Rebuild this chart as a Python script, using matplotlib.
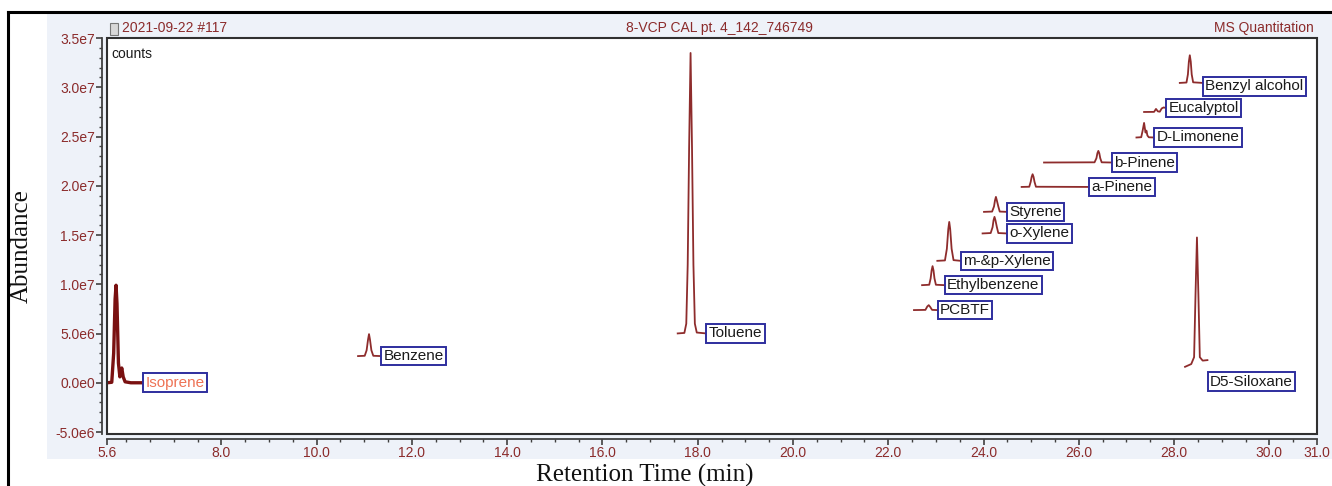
import numpy as np
import matplotlib
matplotlib.use("Agg")
from matplotlib import pyplot as plt
from matplotlib.ticker import MultipleLocator, FixedLocator, FuncFormatter
from matplotlib.patches import Rectangle
from matplotlib.lines import Line2D

# compound segments of the stacked chromatogram (time in min, abundance in 1e6 counts)
names = ["Isoprene", "Benzene", "Toluene", "PCBTF", "Ethylbenzene", "m-&p-Xylene",
         "o-Xylene", "Styrene", "a-Pinene", "b-Pinene", "D-Limonene", "Eucalyptol",
         "Benzyl alcohol", "D5-Siloxane"]

times = [
    [5.60, 5.70, 5.74, 5.77, 5.79, 5.81, 5.84, 5.87, 5.91, 5.94, 5.98, 6.10, 6.36],
    [10.87, 11.01, 11.05, 11.08, 11.10, 11.12, 11.15, 11.19, 11.35],
    [17.58, 17.72, 17.76, 17.79, 17.82, 17.85, 17.88, 17.91, 17.94, 17.98, 18.18],
    [22.54, 22.78, 22.82, 22.85, 22.88, 22.92, 23.03],
    [22.71, 22.86, 22.89, 22.91, 22.93, 22.95, 22.97, 23.00, 23.18],
    [23.03, 23.19, 23.23, 23.26, 23.28, 23.30, 23.33, 23.37, 23.52],
    [23.98, 24.15, 24.19, 24.21, 24.23, 24.25, 24.28, 24.31, 24.49],
    [24.01, 24.18, 24.22, 24.24, 24.26, 24.28, 24.31, 24.34, 24.49],
    [24.80, 24.96, 24.99, 25.01, 25.03, 25.05, 25.07, 25.10, 26.22],
    [25.27, 26.33, 26.37, 26.39, 26.41, 26.43, 26.45, 26.48, 26.69],
    [27.21, 27.31, 27.34, 27.37, 27.40, 27.42, 27.44, 27.47, 27.58],
    [27.37, 27.58, 27.62, 27.66, 27.70, 27.74, 27.78, 27.83],
    [28.12, 28.26, 28.29, 28.31, 28.33, 28.35, 28.37, 28.40, 28.60],
    [28.23, 28.36, 28.42, 28.45, 28.48, 28.51, 28.54, 28.60, 28.70],
]

counts = [
    [0.0, 0.05, 3.0, 8.5, 9.9, 8.0, 2.0, 0.6, 1.5, 0.6, 0.1, 0.0, 0.0],
    [2.71, 2.74, 3.3, 4.4, 4.94, 4.4, 3.3, 2.74, 2.71],
    [5.01, 5.06, 6.0, 12.0, 24.0, 33.48, 24.0, 12.0, 6.0, 5.1, 5.01],
    [7.38, 7.40, 7.75, 7.88, 7.70, 7.40, 7.38],
    [9.91, 9.95, 10.6, 11.4, 11.84, 11.4, 10.6, 9.95, 9.91],
    [12.38, 12.42, 13.6, 15.6, 16.33, 15.6, 13.6, 12.45, 12.38],
    [15.16, 15.20, 15.8, 16.5, 16.84, 16.5, 15.8, 15.20, 15.16],
    [17.35, 17.38, 17.9, 18.5, 18.87, 18.5, 17.9, 17.38, 17.35],
    [19.88, 19.90, 20.4, 20.9, 21.17, 20.9, 20.4, 19.90, 19.88],
    [22.36, 22.38, 22.8, 23.3, 23.54, 23.3, 22.8, 22.38, 22.36],
    [24.90, 24.93, 25.6, 26.38, 25.4, 25.6, 25.1, 24.92, 24.90],
    [27.49, 27.50, 27.80, 27.55, 27.52, 27.85, 27.95, 27.90],
    [30.44, 30.48, 31.3, 32.6, 33.25, 32.6, 31.3, 30.50, 30.44],
    [1.62, 1.90, 2.6, 9.0, 14.75, 9.0, 2.6, 2.25, 2.30],
]

xticks = [5.6, 8.0, 10.0, 12.0, 14.0, 16.0, 18.0, 20.0, 22.0, 24.0, 26.0, 28.0, 30.0, 31.0]

sans = "Liberation Sans"
serif = "Liberation Serif"
tick_red = "#8b2b2b"
trace_red = "#8e2c2c"
box_blue = "#2e2e9e"

fig = plt.figure(figsize=(13.32, 4.86), dpi=100)

# light panel behind the plot and the header strip
fig.patches.append(Rectangle((47 / 1332, 1 - 459 / 486), 1 - 47 / 1332, (459 - 14) / 486,
                             transform=fig.transFigure, facecolor="#eef2f9",
                             edgecolor="none", zorder=-1))
# black outer frame (top and left)
fig.lines.append(Line2D([8 / 1332, 1], [1 - 12 / 486, 1 - 12 / 486],
                        transform=fig.transFigure, color="black", lw=2.2))
fig.lines.append(Line2D([8 / 1332, 8 / 1332], [0, 1 - 12 / 486],
                        transform=fig.transFigure, color="black", lw=2.2))

ax = fig.add_axes([107 / 1332, 1 - 434 / 486, (1317 - 107) / 1332, (434 - 38) / 486])
ax.set_facecolor("white")

for i, name in enumerate(names):
    t = np.array(times[i])
    y = np.array(counts[i]) * 1e6
    if name == "Isoprene":
        ax.plot(t, y, color="#7a1111", lw=2.4, solid_joinstyle="round", zorder=3)
    else:
        ax.plot(t, y, color=trace_red, lw=1.3, solid_joinstyle="round", zorder=3)

    # label box starts where the segment ends
    ly = y[-1]
    if name == "D5-Siloxane":
        ly -= 2.2e6
    elif name == "Benzyl alcohol":
        ly -= 0.35e6
    col = "#ee7355" if name == "Isoprene" else "#1a1a1a"
    ax.annotate(name, xy=(t[-1], ly), xytext=(1.8, 0), textcoords="offset points",
                ha="left", va="center", fontsize=11, family=sans, color=col,
                bbox=dict(boxstyle="square,pad=0.15", fc="white", ec=box_blue, lw=1.4),
                zorder=4)

ax.set_xlim(5.6, 31.0)
ax.set_ylim(-5.2e6, 3.5e7)

# plot box, with the axis lines pushed outward from it
ax.add_patch(Rectangle((0, 0), 1, 1, transform=ax.transAxes, fill=False,
                       edgecolor="#303030", lw=1.5, clip_on=False, zorder=5))
for s in ["top", "right"]:
    ax.spines[s].set_visible(False)
for s in ["left", "bottom"]:
    ax.spines[s].set_position(("outward", 3.3))
    ax.spines[s].set_color("#404040")
    ax.spines[s].set_linewidth(1.3)


def sci(v, pos):
    v = round(v)
    if v == 0:
        return "0.0e0"
    e = int(np.floor(np.log10(abs(v))))
    return f"{v / 10 ** e:.1f}e{e}"


ax.yaxis.set_major_locator(MultipleLocator(5e6))
ax.yaxis.set_minor_locator(MultipleLocator(1e6))
ax.yaxis.set_major_formatter(FuncFormatter(sci))
ax.xaxis.set_major_locator(FixedLocator(xticks))
ax.xaxis.set_minor_locator(MultipleLocator(0.5))
ax.xaxis.set_major_formatter(FuncFormatter(lambda v, p: f"{v:.1f}"))

ax.tick_params(which="major", direction="out", length=4, width=1.2, color="#404040",
               labelsize=10, labelcolor=tick_red, pad=1.5)
ax.tick_params(which="minor", direction="out", length=2.5, width=1.0, color="#404040")
for lab in ax.get_xticklabels() + ax.get_yticklabels():
    lab.set_family(sans)

ax.text(0.004, 0.978, "counts", transform=ax.transAxes, ha="left", va="top",
        fontsize=10, family=sans, color="#1a1a1a")

# header strip above the plot
fig.patches.append(Rectangle((110 / 1332, 1 - 35 / 486), 8 / 1332, 12 / 486,
                             transform=fig.transFigure, facecolor="#d8d8d8",
                             edgecolor="#777777", lw=0.8, zorder=2))
fig.text(122 / 1332, 1 - 28 / 486, "2021-09-22 #117", ha="left", va="center",
         fontsize=10, family=sans, color=tick_red)
fig.text(719 / 1332, 1 - 28 / 486, "8-VCP CAL pt. 4_142_746749", ha="center",
         va="center", fontsize=10, family=sans, color=tick_red)
fig.text(1314 / 1332, 1 - 28 / 486, "MS Quantitation", ha="right", va="center",
         fontsize=10, family=sans, color=tick_red)

fig.text(22 / 1332, 1 - 246 / 486, "Abundance", rotation=90, ha="center", va="center",
         fontsize=18, family=serif, color="#111111")
fig.text(645 / 1332, 1 - 475 / 486, "Retention Time (min)", ha="center", va="center",
         fontsize=18, family=serif, color="#111111")

fig.savefig("out.png", dpi=100)
